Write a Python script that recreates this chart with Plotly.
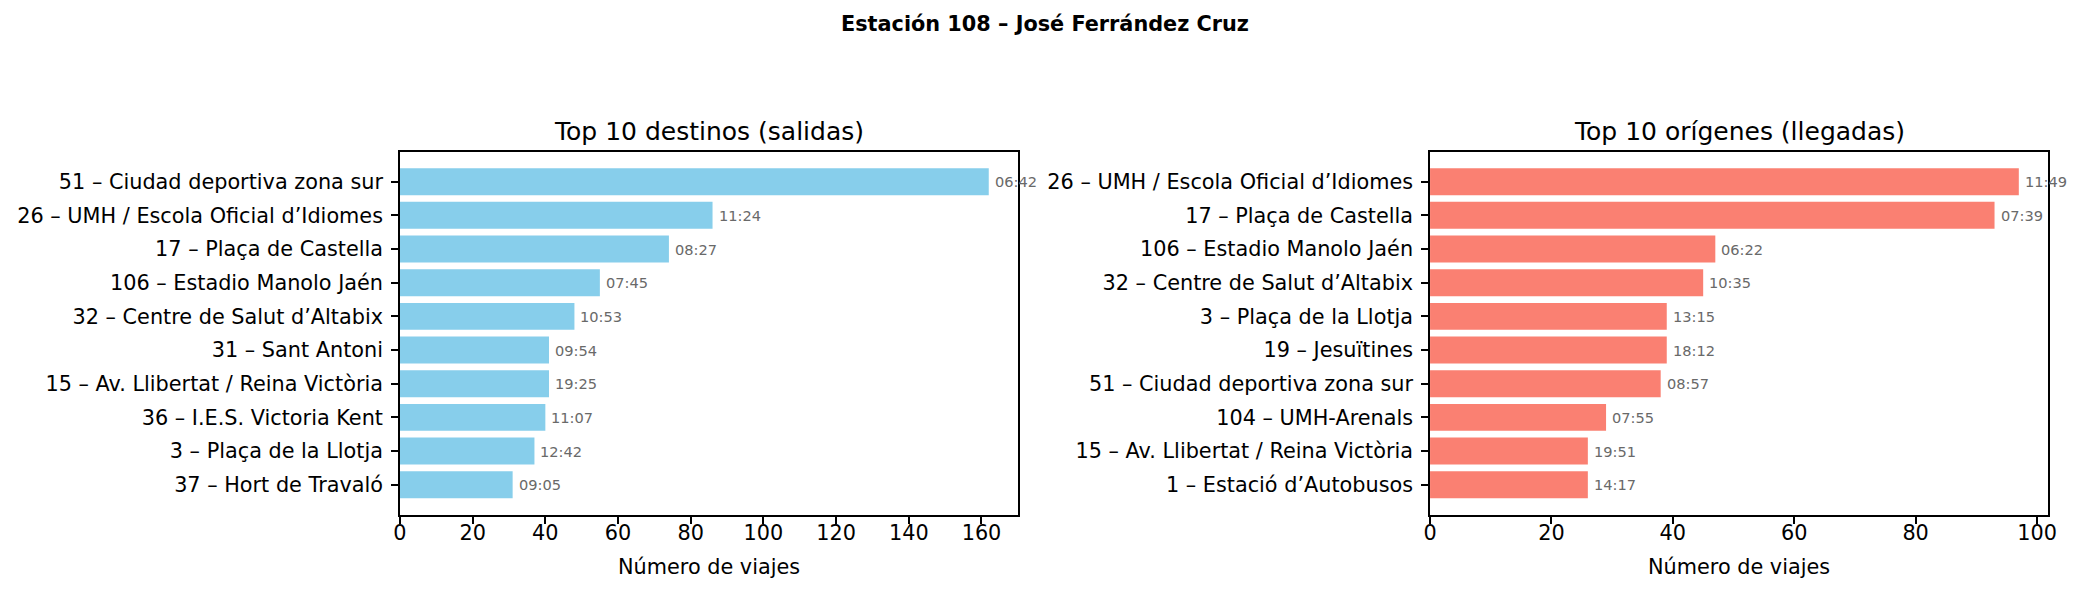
import plotly.graph_objects as go

suptitle = "Estación 108 – José Ferrández Cruz"

dest_names = [
    "51 – Ciudad deportiva zona sur",
    "26 – UMH / Escola Oficial d’Idiomes",
    "17 – Plaça de Castella",
    "106 – Estadio Manolo Jaén",
    "32 – Centre de Salut d’Altabix",
    "31 – Sant Antoni",
    "15 – Av. Llibertat / Reina Victòria",
    "36 – I.E.S. Victoria Kent",
    "3 – Plaça de la Llotja",
    "37 – Hort de Travaló",
]
dest_counts = [162, 86, 74, 55, 48, 41, 41, 40, 37, 31]
dest_times = ["06:42", "11:24", "08:27", "07:45", "10:53", "09:54", "19:25", "11:07", "12:42", "09:05"]

orig_names = [
    "26 – UMH / Escola Oficial d’Idiomes",
    "17 – Plaça de Castella",
    "106 – Estadio Manolo Jaén",
    "32 – Centre de Salut d’Altabix",
    "3 – Plaça de la Llotja",
    "19 – Jesuïtines",
    "51 – Ciudad deportiva zona sur",
    "104 – UMH-Arenals",
    "15 – Av. Llibertat / Reina Victòria",
    "1 – Estació d’Autobusos",
]
orig_counts = [97, 93, 47, 45, 39, 39, 38, 29, 26, 26]
orig_times = ["11:49", "07:39", "06:22", "10:35", "13:15", "18:12", "08:57", "07:55", "19:51", "14:17"]

W, H = 2091, 594
FONT = "DejaVu Sans"
TICK = 20.8

fig = go.Figure()
fig.add_trace(go.Bar(x=dest_counts, y=dest_names, orientation="h",
                     marker=dict(color="#87CEEB", line=dict(width=0)),
                     xaxis="x", yaxis="y", showlegend=False, hoverinfo="x+y"))
fig.add_trace(go.Bar(x=orig_counts, y=orig_names, orientation="h",
                     marker=dict(color="#FA8072", line=dict(width=0)),
                     xaxis="x2", yaxis="y2", showlegend=False, hoverinfo="x+y"))

def px_x(p):
    return p / W

def px_y(p):
    return 1 - p / H

top, bottom = 151.7, 514.7
dom_y = [px_y(bottom), px_y(top)]
dom_x1 = [px_x(396), px_x(1019)]
dom_x2 = [px_x(1434), px_x(2057)]

axis_common = dict(showline=True, linecolor="black", linewidth=1.6, mirror=True,
                   ticks="outside", ticklen=7, tickwidth=1.6, tickcolor="black",
                   showgrid=False, zeroline=False,
                   tickfont=dict(family=FONT, size=TICK, color="black"))

fig.update_layout(
    width=W, height=H,
    margin=dict(l=0, r=0, t=0, b=0),
    paper_bgcolor="white", plot_bgcolor="white",
    bargap=0.2,
    font=dict(family=FONT, color="black"),
    xaxis=dict(domain=dom_x1, range=[0, 162 * 1.05], anchor="y", dtick=20,
               ticklabelstandoff=-8, **axis_common),
    yaxis=dict(domain=dom_y, anchor="x", type="category", categoryorder="array",
               categoryarray=dest_names, range=[9.89, -0.89], ticklabelstandoff=4, **axis_common),
    xaxis2=dict(domain=dom_x2, range=[0, 97 * 1.05], anchor="y2", dtick=20,
                ticklabelstandoff=-8, **axis_common),
    yaxis2=dict(domain=dom_y, anchor="x2", type="category", categoryorder="array",
                categoryarray=orig_names, range=[9.89, -0.89], ticklabelstandoff=4, **axis_common),
)

ann = []
for n, c, t in zip(dest_names, dest_counts, dest_times):
    ann.append(dict(x=c, y=n, xref="x", yref="y", text=t, showarrow=False,
                    xanchor="left", yanchor="middle", xshift=4,
                    font=dict(family=FONT, size=14.6, color="#696969")))
for n, c, t in zip(orig_names, orig_counts, orig_times):
    ann.append(dict(x=c, y=n, xref="x2", yref="y2", text=t, showarrow=False,
                    xanchor="left", yanchor="middle", xshift=4,
                    font=dict(family=FONT, size=14.6, color="#696969")))

ann.append(dict(x=0.5, y=px_y(24), xref="paper", yref="paper", text="<b>" + suptitle + "</b>",
                showarrow=False, xanchor="center", yanchor="middle",
                font=dict(family=FONT, size=20.8, color="black")))
for dom, title in [(dom_x1, "Top 10 destinos (salidas)"), (dom_x2, "Top 10 orígenes (llegadas)")]:
    ann.append(dict(x=(dom[0] + dom[1]) / 2, y=px_y(131), xref="paper", yref="paper", text=title,
                    showarrow=False, xanchor="center", yanchor="middle",
                    font=dict(family=FONT, size=25, color="black")))
    ann.append(dict(x=(dom[0] + dom[1]) / 2, y=px_y(567), xref="paper", yref="paper",
                    text="Número de viajes", showarrow=False, xanchor="center", yanchor="middle",
                    font=dict(family=FONT, size=TICK, color="black")))

fig.update_layout(annotations=ann)
fig.write_html("out.html")
